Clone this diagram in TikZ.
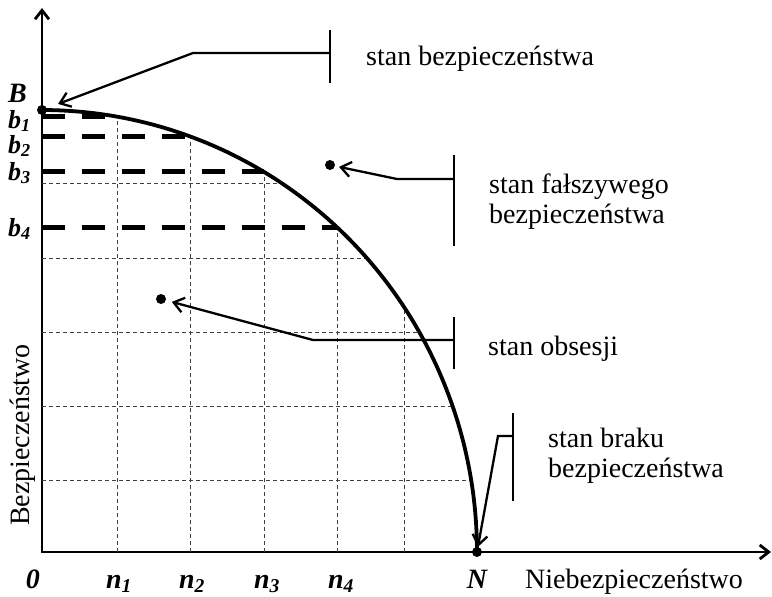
\documentclass[tikz,border=0pt]{standalone}
\usepackage{fontspec}
\setmainfont{Liberation Serif}
\usetikzlibrary{arrows.meta}

\begin{document}
\begin{tikzpicture}[
    x=1pt, y=-1pt,
    axis/.style={line width=2.8pt, {Straight Barb[length=9pt,width=14pt]}-{Straight Barb[length=9pt,width=14pt]}},
    grid line/.style={line width=0.9pt, dash pattern=on 4pt off 3pt, black!75},
    level/.style={line width=4.8pt, dash pattern=on 23pt off 17pt},
    curve/.style={line width=3.8pt},
    bar/.style={line width=2.3pt},
    pointer/.style={line width=2.3pt, -{Straight Barb[length=10pt,width=15pt]}},
    dot/.style={circle, fill=black, inner sep=0pt, minimum size=10pt},
    state/.style={font=\fontsize{28}{30}\selectfont, align=left, anchor=base west, inner sep=0pt},
    symb/.style={font=\fontsize{28}{30}\selectfont\bfseries\itshape, inner sep=0pt},
    level label/.style={font=\fontsize{26}{28}\selectfont\bfseries\itshape, inner sep=0pt, anchor=base west}
]
\useasboundingbox (0,0) rectangle (772,597);

% axes
\coordinate (O) at (42,552);
\coordinate (ytop) at (42,8);
\coordinate (xend) at (771,552);
\draw[axis] (ytop) -- (O) -- (xend);

% grid inside the curve
\begin{scope}
  \clip (O) ellipse [x radius=435, y radius=442];
  \foreach \gx in {117,190,264,337,404}
    \draw[grid line] (\gx,552) -- (\gx,100);
  \foreach \gy in {183,258,332,406,480}
    \draw[grid line] (42,\gy) -- (480,\gy);
\end{scope}

% levels b1..b4
\foreach \i/\nx in {1/117,2/190,3/264,4/337} {
  \coordinate (c\i) at (\nx,{552-442*sqrt(1-((\nx-42)/435)^2)});
  \draw[level] (O |- c\i) -- (c\i);
}

% curve
\draw[curve] plot[domain=0:90, samples=80, smooth] ({42+435*cos(\x)},{552-442*sin(\x)});

% points
\node[dot] (B) at (42,110) {};
\node[dot] (N) at (477,552) {};
\node[dot] (false) at (330,165) {};
\node[dot] (obs) at (161,299) {};

% callouts
\coordinate (j1) at (330,53);  \coordinate (k1) at (193,53);
\coordinate (j2) at (454,179); \coordinate (k2) at (397,179);
\coordinate (j3) at (454,340); \coordinate (k3) at (313,340);
\coordinate (j4) at (513,436); \coordinate (k4) at (498,436);

\draw[bar] (j1) ++(0,-23) -- ++(0,53);
\draw[bar] (j2) ++(0,-24) -- ++(0,91);
\draw[bar] (j3) ++(0,-23) -- ++(0,52);
\draw[bar] (j4) ++(0,-23) -- ++(0,88);

\draw[pointer, shorten >=12pt] (j1) -- (k1) -- (B);
\draw[pointer, shorten >=4pt] (j2) -- (k2) -- (false);
\draw[pointer, shorten >=6pt] (j3) -- (k3) -- (obs);
\draw[pointer] (j4) -- (k4) -- (N);

\node[state] (tsafe) at (366,65) {stan bezpieczeństwa};
\node[state] (tfalse) at (489,223) {stan fałszywego\\bezpieczeństwa};
\node[state] (tobs) at (488,355) {stan obsesji};
\node[state] (tlack) at (548,477) {stan braku\\bezpieczeństwa};

% axis labels
\node[symb, anchor=base west] (lB) at (8,102) {B};
\node[level label] (lb1) at (8,128) {b\textsubscript{1}};
\node[level label] (lb2) at (8,153) {b\textsubscript{2}};
\node[level label] (lb3) at (8,180) {b\textsubscript{3}};
\node[level label] (lb4) at (8,236) {b\textsubscript{4}};

\node[symb, anchor=base] (l0) at (33,588) {0};
\node[symb, anchor=base] (ln1) at (119,588) {n\textsubscript{1}};
\node[symb, anchor=base] (ln2) at (192,588) {n\textsubscript{2}};
\node[symb, anchor=base] (ln3) at (267,588) {n\textsubscript{3}};
\node[symb, anchor=base] (ln4) at (341,588) {n\textsubscript{4}};
\node[symb, anchor=base] (lN) at (477,588) {N};

\node[state] (xlab) at (525,588) {Niebezpieczeństwo};
\node[state, rotate=90, anchor=base] (ylab) at (30,435) {Bezpieczeństwo};
\end{tikzpicture}
\end{document}
